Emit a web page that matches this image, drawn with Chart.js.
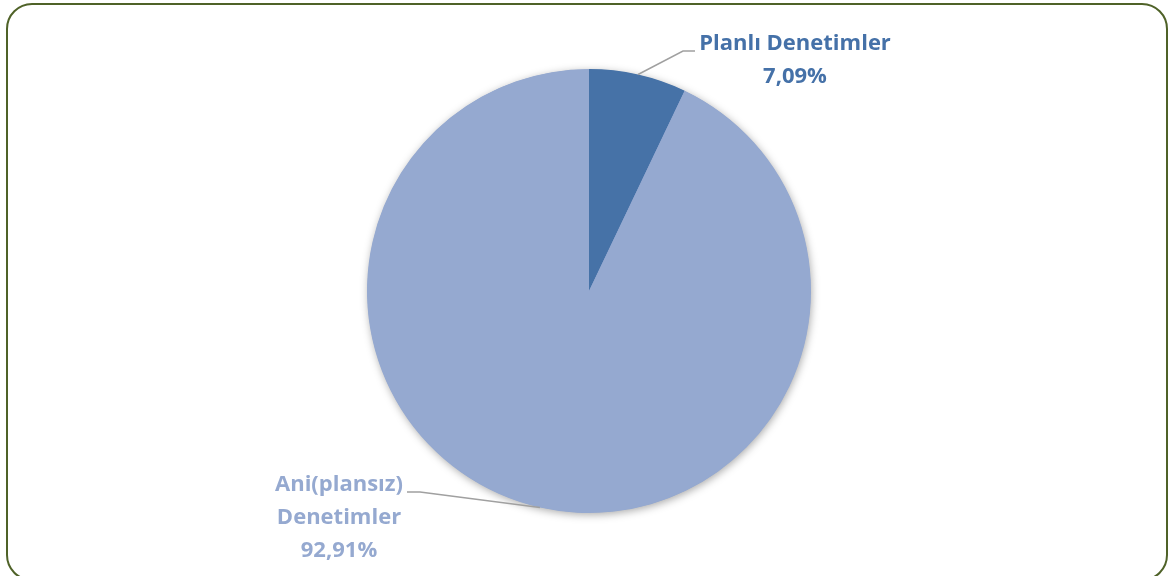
<!DOCTYPE html>
<html>
<head>
<meta charset="utf-8">
<script src="https://cdn.jsdelivr.net/npm/chart.js@4.4.0/dist/chart.umd.min.js"></script>
<style>
  html, body { margin: 0; padding: 0; background: #fff; overflow: hidden; }
  #wrap { position: relative; width: 1169px; height: 576px; overflow: hidden; }
  #cerceve {
    position: absolute; left: 6px; top: 3px; width: 1162px; height: 578px;
    border: 2px solid #4f6228; border-radius: 26px; box-sizing: border-box;
  }
  canvas { position: absolute; left: 0; top: 0; }
</style>
</head>
<body>
<div id="wrap">
  <div id="cerceve"></div>
  <canvas id="grafik" width="1169" height="576"></canvas>
</div>
<script>
// Veriler
const kategoriler = ['Planlı Denetimler', 'Ani(plansız) Denetimler'];
const etiketSatirlari = [['Planlı Denetimler'], ['Ani(plansız)', 'Denetimler']];
const yuzdeler = [7.09, 92.91];
const dilimRenkleri = ['#4672a7', '#95a9d0'];
const yaziRenkleri = ['#4571a8', '#95a9d0'];

// Etiket yerleşimi (dilim ortasından çizgi kırılma noktası ve yazı merkezi)
const etiketYerlesim = [
  { kirik: [683, 51], uc: [695, 51], yazi: [795, 44] },
  { kirik: [420, 492], uc: [407, 492], yazi: [339, 485] }
];

const golgeEklentisi = {
  id: 'golge',
  beforeDatasetsDraw(chart) {
    const arc = chart.getDatasetMeta(0).data[0];
    if (!arc) return;
    const ctx = chart.ctx;
    ctx.save();
    ctx.shadowColor = 'rgba(0,0,0,0.35)';
    ctx.shadowBlur = 9;
    ctx.shadowOffsetX = 1;
    ctx.shadowOffsetY = 2;
    ctx.fillStyle = '#95a9d0';
    ctx.beginPath();
    ctx.arc(arc.x, arc.y, arc.outerRadius - 0.5, 0, Math.PI * 2);
    ctx.fill();
    ctx.restore();
  }
};

const etiketEklentisi = {
  id: 'etiketler',
  afterDatasetsDraw(chart) {
    const ctx = chart.ctx;
    chart.getDatasetMeta(0).data.forEach((arc, i) => {
      const orta = (arc.startAngle + arc.endAngle) / 2;
      const bx = arc.x + Math.cos(orta) * arc.outerRadius;
      const by = arc.y + Math.sin(orta) * arc.outerRadius;
      const y = etiketYerlesim[i];
      ctx.save();
      ctx.strokeStyle = '#a0a0a0';
      ctx.lineWidth = 1.5;
      ctx.beginPath();
      ctx.moveTo(bx, by);
      ctx.lineTo(y.kirik[0], y.kirik[1]);
      ctx.lineTo(y.uc[0], y.uc[1]);
      ctx.stroke();

      ctx.fillStyle = yaziRenkleri[i];
      ctx.font = 'bold 22px "Open Sans", "Noto Sans", sans-serif';
      ctx.textAlign = 'center';
      ctx.textBaseline = 'middle';
      const satirlar = etiketSatirlari[i].concat([yuzdeler[i].toFixed(2).replace('.', ',') + '%']);
      satirlar.forEach((s, k) => ctx.fillText(s, y.yazi[0], y.yazi[1] + k * 33));
      ctx.restore();
    });
  }
};

new Chart(document.getElementById('grafik').getContext('2d'), {
  type: 'pie',
  data: {
    labels: kategoriler,
    datasets: [{
      data: yuzdeler,
      backgroundColor: dilimRenkleri,
      borderWidth: 0
    }]
  },
  options: {
    responsive: false,
    animation: false,
    layout: { padding: { top: 69, bottom: 63, left: 9, right: 0 } },
    plugins: {
      legend: { display: false },
      tooltip: { enabled: false }
    }
  },
  plugins: [golgeEklentisi, etiketEklentisi]
});
</script>
</body>
</html>
